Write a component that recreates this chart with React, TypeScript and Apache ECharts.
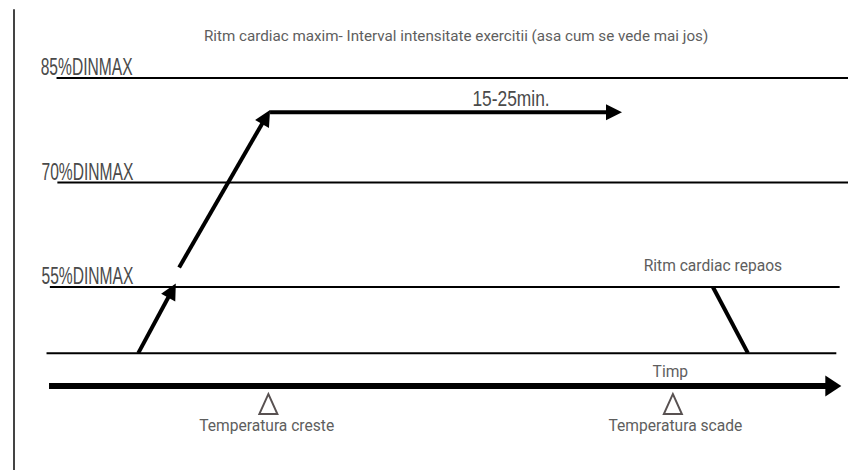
import React, { useEffect, useRef } from "react";
import * as echarts from "echarts";

// ---- axis domains (time units on x, % of max heart rate on y) ----
const X_MIN = 0;
const X_MAX = 100;
const Y_MIN = 28.73;
const Y_MAX = 94.76;

// ---- heart-rate levels ----
const levelValues = [85, 70, 55];
const levelLabels = ["85%DINMAX", "70%DINMAX", "55%DINMAX"];
const levelLabelX = [3.2, 3.3, 3.3];
const levelStartX = [5.1, 5.2, 4.3];
const levelEndX = [100, 100, 99.0];

// resting line
const restLevel = 45.5;
const restStartX = 3.9;
const restEndX = 98.6;

// time axis arrow
const timeLevel = 40.8;
const timeStartX = 4.2;
const timeEndX = 99.2;

// warm-up / plateau arrows: [x1, y1, x2, y2]
const warmupArrows = [
  [14.9, 45.5, 19.4, 55.5],
  [19.8, 57.8, 30.7, 80.4],
  [30.7, 80.1, 72.9, 80.1],
];
// cool-down segment
const cooldownSegment = [83.8, 55.0, 88.0, 45.5];

// texts
const titleText = "Ritm cardiac maxim- Interval intensitate exercitii (asa cum se vede mai jos)";
const titlePos = [53.0, 91.0];
const durationText = "15-25min.";
const durationPos = [59.6, 82.1];
const noteTexts = ["Ritm cardiac repaos", "Timp", "Temperatura creste", "Temperatura scade"];
const noteX = [83.8, 78.7, 30.3, 79.3];
const noteY = [58.0, 42.85, 35.05, 35.05];

// temperature markers
const markerX = [30.5, 79.0];
const markerY = [38.2, 38.2];

type Head = { length: number; half: number } | null;

function segmentSeries(data: number[][], lineWidth: number, head: Head, color = "#000") {
  return {
    type: "custom",
    coordinateSystem: "cartesian2d",
    silent: true,
    encode: { x: [0, 2], y: [1, 3] },
    data,
    renderItem: (_params: any, api: any) => {
      const a = api.coord([api.value(0), api.value(1)]);
      const b = api.coord([api.value(2), api.value(3)]);
      const children: any[] = [];
      if (!head) {
        children.push({
          type: "line",
          shape: { x1: a[0], y1: a[1], x2: b[0], y2: b[1] },
          style: { stroke: color, lineWidth },
        });
      } else {
        const dx = b[0] - a[0];
        const dy = b[1] - a[1];
        const len = Math.hypot(dx, dy) || 1;
        const ux = dx / len;
        const uy = dy / len;
        const bx = b[0] - ux * head.length;
        const by = b[1] - uy * head.length;
        const px = -uy;
        const py = ux;
        children.push({
          type: "line",
          shape: {
            x1: a[0],
            y1: a[1],
            x2: b[0] - ux * head.length * 0.5,
            y2: b[1] - uy * head.length * 0.5,
          },
          style: { stroke: color, lineWidth },
        });
        children.push({
          type: "polygon",
          shape: {
            points: [
              [b[0], b[1]],
              [bx + px * head.half, by + py * head.half],
              [bx - px * head.half, by - py * head.half],
            ],
          },
          style: { fill: color },
        });
      }
      return { type: "group", children };
    },
  };
}

function textSeries(
  points: number[][],
  texts: string[],
  style: { fontSize: number; fontFamily: string; fill: string; align: string; verticalAlign: string; scaleX?: number; dy?: number }
) {
  return {
    type: "custom",
    coordinateSystem: "cartesian2d",
    silent: true,
    encode: { x: 0, y: 1 },
    data: points,
    renderItem: (params: any, api: any) => {
      const p = api.coord([api.value(0), api.value(1)]);
      return {
        type: "text",
        x: p[0],
        y: p[1] + (style.dy || 0),
        scaleX: style.scaleX || 1,
        style: {
          text: texts[params.dataIndex],
          fontSize: style.fontSize,
          fontFamily: style.fontFamily,
          fill: style.fill,
          align: style.align,
          verticalAlign: style.verticalAlign,
        },
      };
    },
  };
}

export default function App() {
  const ref = useRef<HTMLDivElement>(null);

  useEffect(() => {
    if (!ref.current) return;
    const chart = echarts.init(ref.current, null, { renderer: "svg" });

    const levelLines = levelValues.map((v, i) => [levelStartX[i], v, levelEndX[i], v]);
    const levelLabelPts = levelValues.map((v, i) => [levelLabelX[i], v]);

    chart.setOption({
      animation: false,
      backgroundColor: "#ffffff",
      grid: { left: 14, right: 9, top: 10, bottom: 0 },
      xAxis: {
        type: "value",
        min: X_MIN,
        max: X_MAX,
        show: false,
      },
      yAxis: {
        type: "value",
        min: Y_MIN,
        max: Y_MAX,
        axisLine: { show: true, lineStyle: { color: "#444", width: 2 } },
        axisTick: { show: false },
        axisLabel: { show: false },
        splitLine: { show: false },
      },
      series: [
        segmentSeries(levelLines, 2, null),
        segmentSeries([[restStartX, restLevel, restEndX, restLevel]], 2, null),
        segmentSeries([cooldownSegment], 4, null),
        segmentSeries(warmupArrows, 4, { length: 16, half: 8 }),
        segmentSeries([[timeStartX, timeLevel, timeEndX, timeLevel]], 6, { length: 16, half: 10.5 }),
        {
          type: "scatter",
          silent: true,
          symbol: "triangle",
          symbolSize: [18, 20],
          itemStyle: { color: "#ffffff", borderColor: "#2e2626", borderWidth: 2 },
          data: markerX.map((x, i) => [x, markerY[i]]),
        },
        textSeries(levelLabelPts, levelLabels, {
          fontSize: 24,
          fontFamily: "Liberation Sans",
          fill: "#4a4a4a",
          align: "left",
          verticalAlign: "middle",
          scaleX: 0.65,
          dy: -11,
        }),
        textSeries([durationPos], [durationText], {
          fontSize: 22,
          fontFamily: "Liberation Sans",
          fill: "#4a4a4a",
          align: "center",
          verticalAlign: "middle",
          scaleX: 0.79,
        }),
        textSeries([titlePos], [titleText], {
          fontSize: 15.2,
          fontFamily: "Roboto",
          fill: "#5e5e5e",
          align: "center",
          verticalAlign: "middle",
        }),
        textSeries(
          noteX.map((x, i) => [x, noteY[i]]),
          noteTexts,
          {
            fontSize: 15.6,
            fontFamily: "Roboto",
            fill: "#5e5e5e",
            align: "center",
            verticalAlign: "middle",
          }
        ),
      ],
    });

    return () => chart.dispose();
  }, []);

  return (
    <div
      ref={ref}
      style={{ position: "fixed", left: 0, top: 0, width: 857, height: 470 }}
    />
  );
}
